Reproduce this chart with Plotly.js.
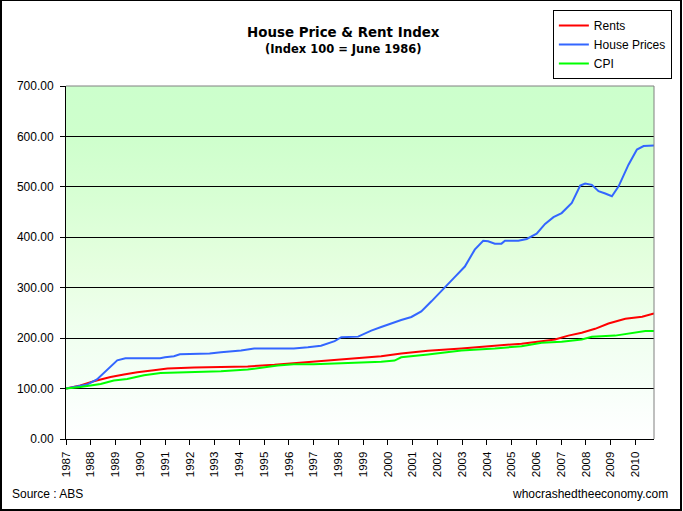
<!DOCTYPE html>
<html>
<head>
<meta charset="utf-8">
<script src="https://cdn.plot.ly/plotly-3.0.1.min.js"></script>
<style>
  html, body { margin: 0; padding: 0; background: #fff; }
  #wrap { position: relative; width: 683px; height: 511px; overflow: hidden; }
  #chart { position: absolute; left: 0; top: 0; width: 683px; height: 511px; }
  #frame { position: absolute; left: 0; top: 0; width: 682px; height: 511px; box-sizing: border-box;
           border-style: solid; border-color: #000; border-width: 1px 2px 2px 2px; pointer-events: none; }
</style>
</head>
<body>
<div id="wrap">
  <div id="chart"></div>
  <div id="frame"></div>
</div>
<script>
// ---- Data (index, 100 = June 1986) ----
const rentYears = [1987.0, 1987.58, 1988.12, 1988.8, 1989.34, 1989.88, 1990.55, 1991.1, 1992.18, 1994.34,
  1995.42, 1996.5, 1997.3, 1998.12, 1998.93, 1999.73, 2000.54, 2001.62, 2002.97, 2004.32,
  2005.4, 2006.21, 2006.75, 2007.29, 2007.83, 2008.37, 2008.91, 2009.59, 2010.27, 2010.75];
const rentValues = [100, 106, 114.6, 123, 128, 132.5, 136.4, 139.7, 141.7, 144,
  147, 151, 153.6, 157.6, 160, 164, 169.5, 175, 179.5, 185,
  189, 194, 197.4, 205, 210.6, 218.5, 229, 238.4, 242.4, 249];

const houseYears = [1987.0, 1987.5, 1987.85, 1988.25, 1988.66, 1989.07, 1989.4, 1990.8, 1991.0, 1991.36,
  1991.6, 1992.8, 1993.26, 1994.07, 1994.6, 1996.2, 1996.77, 1997.3, 1997.85, 1998.12,
  1998.8, 1999.33, 1999.73, 2000.27, 2000.54, 2000.95, 2001.35, 2001.76, 2002.23, 2002.7,
  2003.11, 2003.51, 2003.85, 2004.05, 2004.32, 2004.59, 2004.73, 2005.27, 2005.61, 2006.01,
  2006.35, 2006.69, 2007.02, 2007.43, 2007.77, 2007.97, 2008.24, 2008.51, 2008.78, 2009.05,
  2009.32, 2009.72, 2010.06, 2010.33, 2010.75];
const houseValues = [100, 104, 108, 118, 138, 156, 160, 160, 162, 164,
  168, 169.5, 172, 175.5, 179.5, 179.5, 182, 185, 194, 202,
  203, 215, 222, 232, 236, 242, 253, 273, 298, 321,
  342, 375.5, 393, 392, 387.4, 387.4, 393, 393, 396.7, 407,
  426.5, 440, 448, 468, 502.6, 506.6, 504, 491.4, 486.8, 481.5,
  501, 544, 574, 580.8, 582];

const cpiYears = [1987.0, 1987.58, 1988.4, 1988.93, 1989.47, 1990.15, 1990.82, 1991.9, 1993.26, 1994.34,
  1994.88, 1995.55, 1996.2, 1997.0, 1998.12, 1998.93, 1999.73, 2000.27, 2000.54, 2001.62,
  2002.97, 2004.32, 2005.4, 2006.21, 2007.02, 2007.83, 2008.24, 2009.18, 2009.72, 2010.4, 2010.75];
const cpiValues = [100, 103, 109, 116, 119, 126.5, 131, 132.5, 134.4, 137.7,
  141, 145.7, 148, 148, 150, 151, 153, 155.6, 162, 167.5,
  175.5, 179.5, 184, 190.7, 192.7, 197.4, 202.6, 205, 209, 214, 214];

const yearTicks = [1987, 1988, 1989, 1990, 1991, 1992, 1993, 1994, 1995, 1996, 1997, 1998,
  1999, 2000, 2001, 2002, 2003, 2004, 2005, 2006, 2007, 2008, 2009, 2010];
const yearLabels = yearTicks.map(String);

const seriesNames = ['Rents', 'House Prices', 'CPI'];
const titleText = 'House Price & Rent Index';
const subtitleText = '(Index 100 = June 1986)';
const sourceText = 'Source : ABS';
const siteText = 'whocrashedtheeconomy.com';

// ---- Background gradient (plot area) ----
const gradSvg = '<svg xmlns="http://www.w3.org/2000/svg" width="100" height="100" preserveAspectRatio="none">' +
  '<defs><linearGradient id="g" x1="0" y1="0" x2="0" y2="1">' +
  '<stop offset="0" stop-color="#CCFFCC"/>' +
  '<stop offset="0.14" stop-color="#CEFFCC"/>' +
  '<stop offset="0.32" stop-color="#D8FFD4"/>' +
  '<stop offset="0.52" stop-color="#E6FFE0"/>' +
  '<stop offset="0.68" stop-color="#EFFFEE"/>' +
  '<stop offset="0.82" stop-color="#F5FFF6"/>' +
  '<stop offset="0.92" stop-color="#FBFFFC"/>' +
  '<stop offset="1" stop-color="#FFFFFF"/>' +
  '</linearGradient></defs><rect width="100" height="100" fill="url(#g)"/></svg>';
const gradUri = 'data:image/svg+xml;charset=utf-8,' + encodeURIComponent(gradSvg);

const font = 'Arial, "Liberation Sans", sans-serif';

const traces = [
  { x: rentYears, y: rentValues, name: seriesNames[0], type: 'scatter', mode: 'lines',
    line: { color: '#FF0000', width: 2 } },
  { x: houseYears, y: houseValues, name: seriesNames[1], type: 'scatter', mode: 'lines',
    line: { color: '#3366FF', width: 2 } },
  { x: cpiYears, y: cpiValues, name: seriesNames[2], type: 'scatter', mode: 'lines',
    line: { color: '#00FF00', width: 2 } }
];

const layout = {
  width: 683, height: 511,
  margin: { l: 66, r: 29, t: 86, b: 71.5, pad: 0, autoexpand: false },
  paper_bgcolor: '#FFFFFF',
  plot_bgcolor: 'rgba(0,0,0,0)',
  font: { family: font, size: 12, color: '#000' },
  showlegend: true,
  legend: {
    x: 0.828, y: 1.215, xanchor: 'left', yanchor: 'top',
    bgcolor: '#FFFFFF', bordercolor: '#000', borderwidth: 1,
    font: { family: font, size: 12, color: '#000' },
    itemwidth: 30, tracegroupgap: 0
  },
  xaxis: {
    range: [1987, 2010.75],
    tickmode: 'array', tickvals: yearTicks, ticktext: yearLabels,
    tickangle: -90,
    ticks: 'outside', ticklen: 5, tickcolor: '#000', tickwidth: 1,
    ticklabelstandoff: 2,
    showgrid: false, zeroline: false,
    showline: true, linecolor: '#000', linewidth: 1,
    tickfont: { family: font, size: 11.5, color: '#000' },
    automargin: false,
    fixedrange: true
  },
  yaxis: {
    range: [0, 700], dtick: 100, tick0: 0, tickformat: '.2f',
    ticks: 'outside', ticklen: 5, tickcolor: '#000', tickwidth: 1,
    ticklabelstandoff: 4,
    showgrid: true, gridcolor: '#000', gridwidth: 1,
    zeroline: false,
    showline: true, linecolor: '#000', linewidth: 1,
    tickfont: { family: font, size: 12, color: '#000' },
    automargin: false,
    fixedrange: true
  },
  images: [{
    source: gradUri, xref: 'paper', yref: 'paper', x: 0, y: 1, sizex: 1, sizey: 1,
    sizing: 'stretch', xanchor: 'left', yanchor: 'top', layer: 'below'
  }],
  shapes: [
    { type: 'line', xref: 'paper', yref: 'paper', x0: 0, x1: 1, y0: 1, y1: 1,
      line: { color: '#808080', width: 1 } },
    { type: 'line', xref: 'paper', yref: 'paper', x0: 1, x1: 1, y0: 0, y1: 1,
      line: { color: '#808080', width: 1 } }
  ],
  annotations: [
    { text: '<b>' + titleText + '</b>', xref: 'paper', yref: 'paper', x: 0.472, y: 1.1528,
      xanchor: 'center', yanchor: 'middle', showarrow: false,
      font: { family: 'Tahoma, "DejaVu Sans", sans-serif', size: 13.4, color: '#000' } },
    { text: '<b>' + subtitleText + '</b>', xref: 'paper', yref: 'paper', x: 0.472, y: 1.1047,
      xanchor: 'center', yanchor: 'middle', showarrow: false,
      font: { family: 'Tahoma, "DejaVu Sans", sans-serif', size: 11.5, color: '#000' } },
    { text: sourceText, xref: 'paper', yref: 'paper', x: -0.0952, y: -0.157,
      xanchor: 'left', yanchor: 'middle', showarrow: false,
      font: { family: font, size: 12, color: '#000' } },
    { text: siteText, xref: 'paper', yref: 'paper', x: 1.027, y: -0.157,
      xanchor: 'right', yanchor: 'middle', showarrow: false,
      font: { family: font, size: 12, color: '#000' } }
  ]
};

Plotly.newPlot('chart', traces, layout, { staticPlot: true, displayModeBar: false });
</script>
</body>
</html>
